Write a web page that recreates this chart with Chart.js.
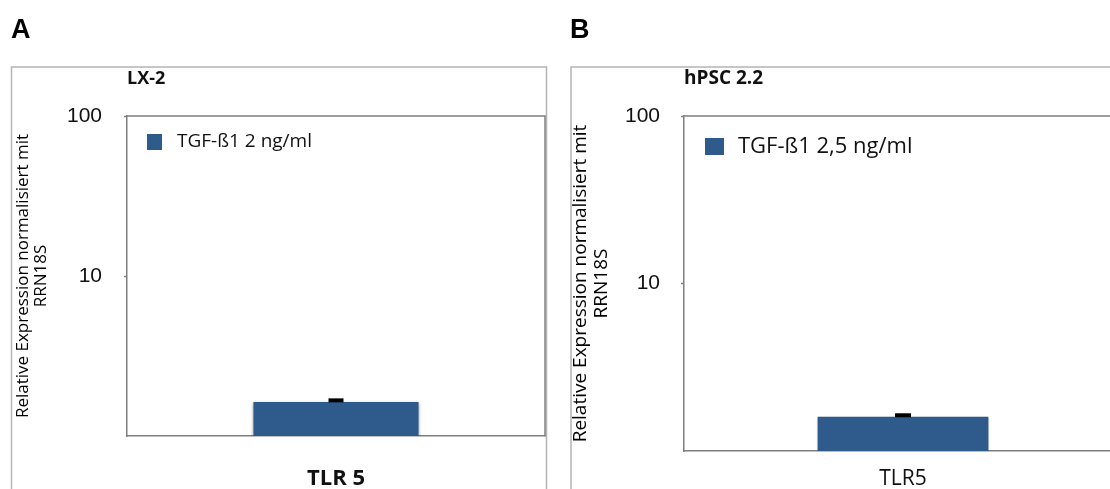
<!DOCTYPE html>
<html>
<head>
<title>TLR5 Expression</title>
<script src="https://cdn.jsdelivr.net/npm/chart.js"></script>
<style>
    html, body {
        margin: 0;
        padding: 0;
        background: #ffffff;
        width: 1110px;
        height: 489px;
        overflow: hidden;
    }
    .panel {
        position: absolute;
        top: 0;
        height: 489px;
    }
    #panelA { left: 0; width: 555px; }
    #panelB { left: 560px; width: 575px; }
</style>
</head>
<body>
<div class="panel" id="panelA"><canvas id="chartA"></canvas></div>
<div class="panel" id="panelB"><canvas id="chartB"></canvas></div>
<script>
// data
const categoriesA = ['TLR 5'];
const categoriesB = ['TLR5'];
const seriesLabelA = 'TGF-ß1 2 ng/ml';
const seriesLabelB = 'TGF-ß1 2,5 ng/ml';
const valuesA = [1.63];
const errorsA = [0.04];
const valuesB = [1.60];
const errorsB = [0.034];
const yTicks = [10, 100];
const yTitle = ['Relative Expression normalisiert mit', 'RRN18S'];

const BAR_BLUE = '#2e5a8c';
const AXIS_GREY = '#7f7f7f';

// letter, outer box, frame, legend and error caps
const panelDecor = {
    id: 'panelDecor',
    beforeDraw(chart, args, o) {
        const ctx = chart.ctx;
        ctx.save();
        ctx.fillStyle = '#000';
        ctx.font = 'bold 27px "Liberation Sans", Arial, sans-serif';
        ctx.textBaseline = 'alphabetic';
        ctx.fillText(o.letter, o.letterX, 38);

        ctx.strokeStyle = '#b4b4b4';
        ctx.lineWidth = 1.5;
        ctx.beginPath();
        ctx.moveTo(o.boxLeft, 700);
        ctx.lineTo(o.boxLeft, 67);
        ctx.lineTo(o.boxRight, 67);
        ctx.lineTo(o.boxRight, 700);
        ctx.stroke();

        ctx.fillStyle = '#111';
        ctx.font = 'bold ' + o.titleSize + 'px "Open Sans", sans-serif';
        ctx.textBaseline = 'middle';
        ctx.fillText(o.title, chart.chartArea.left, 79);
        ctx.restore();
    },
    beforeDatasetsDraw(chart) {
        const ctx = chart.ctx;
        ctx.save();
        ctx.shadowColor = 'rgba(0,0,0,0.35)';
        ctx.shadowBlur = 3;
        ctx.shadowOffsetY = 1;
    },
    afterDatasetsDraw(chart, args, o) {
        const ctx = chart.ctx;
        ctx.restore();
        const area = chart.chartArea;
        const y = chart.scales.y;
        ctx.save();

        // plot frame (top and right)
        ctx.strokeStyle = AXIS_GREY;
        ctx.lineWidth = 1.5;
        ctx.beginPath();
        ctx.moveTo(area.left, area.top);
        ctx.lineTo(area.right, area.top);
        ctx.lineTo(area.right, area.bottom);
        ctx.stroke();

        // error bars
        const ds = chart.data.datasets[0];
        const meta = chart.getDatasetMeta(0);
        ctx.strokeStyle = '#000';
        meta.data.forEach((bar, i) => {
            const top = y.getPixelForValue(ds.data[i] + o.errors[i]);
            ctx.lineWidth = 1.5;
            ctx.beginPath();
            ctx.moveTo(bar.x, bar.y);
            ctx.lineTo(bar.x, top);
            ctx.stroke();
            ctx.lineWidth = 4;
            ctx.beginPath();
            ctx.moveTo(bar.x - o.capHalf, top);
            ctx.lineTo(bar.x + o.capHalf, top);
            ctx.stroke();
        });

        // legend
        const lg = o.legend;
        ctx.fillStyle = ds.backgroundColor;
        ctx.fillRect(lg.x, lg.y, lg.w, lg.h);
        ctx.fillStyle = '#111';
        ctx.font = lg.size + 'px "Open Sans", sans-serif';
        ctx.textBaseline = 'middle';
        ctx.fillText(ds.label, lg.textX, lg.y + lg.h / 2);
        ctx.restore();
    }
};

function makeChart(id, cfg) {
    return new Chart(document.getElementById(id), {
        type: 'bar',
        data: {
            labels: cfg.labels,
            datasets: [{
                label: cfg.seriesLabel,
                data: cfg.values,
                backgroundColor: BAR_BLUE,
                borderWidth: 0,
                barPercentage: cfg.barPct,
                categoryPercentage: 1
            }]
        },
        options: {
            responsive: true,
            maintainAspectRatio: false,
            animation: false,
            layout: { padding: { left: 0, top: 116, right: cfg.padRight, bottom: 0 } },
            plugins: {
                legend: { display: false },
                tooltip: { enabled: false },
                panelDecor: cfg.decor
            },
            scales: {
                x: {
                    grid: { display: false, drawTicks: false },
                    border: { color: AXIS_GREY, width: 1.5 },
                    ticks: { color: '#111', padding: cfg.xPad, font: cfg.xFont },
                    afterFit(s) { s.height = cfg.xHeight; }
                },
                y: {
                    type: 'logarithmic',
                    min: 1,
                    max: 100,
                    afterBuildTicks(s) { s.ticks = yTicks.map(v => ({ value: v })); },
                    ticks: {
                        color: '#111',
                        padding: cfg.yPad,
                        font: { family: '"Liberation Sans", Arial, sans-serif', size: 21 },
                        callback: v => String(v)
                    },
                    grid: { drawOnChartArea: false, drawTicks: true, tickLength: 3, tickColor: AXIS_GREY, tickWidth: 1.5 },
                    border: { color: AXIS_GREY, width: 1.5 },
                    title: {
                        display: true,
                        text: yTitle,
                        color: '#000',
                        padding: { top: cfg.titlePad, bottom: 0 },
                        font: { family: '"Open Sans", sans-serif', size: cfg.titleSize, lineHeight: cfg.titleLh }
                    },
                    afterFit(s) { s.width = cfg.yWidth; }
                }
            }
        },
        plugins: [panelDecor]
    });
}

makeChart('chartA', {
    labels: categoriesA,
    seriesLabel: seriesLabelA,
    values: valuesA,
    barPct: 0.395,
    padRight: 10,
    xHeight: 53,
    xPad: 30,
    xFont: { family: '"Open Sans", sans-serif', size: 22, weight: 'bold' },
    yPad: 22,
    yWidth: 127,
    titlePad: 14,
    titleSize: 17,
    titleLh: 1.05,
    decor: {
        letter: 'A', letterX: 11, boxLeft: 11.5, boxRight: 546.5,
        title: 'LX-2', titleSize: 18, errors: errorsA, capHalf: 7.5,
        legend: { x: 147, y: 134, w: 15, h: 16, textX: 177, size: 19 }
    }
});

makeChart('chartB', {
    labels: categoriesB,
    seriesLabel: seriesLabelB,
    values: valuesB,
    barPct: 0.39,
    padRight: 13,
    xHeight: 38,
    xPad: 15,
    xFont: { family: '"Open Sans", sans-serif', size: 21 },
    yPad: 21,
    yWidth: 124,
    titlePad: 10,
    titleSize: 19,
    titleLh: 1.1,
    decor: {
        letter: 'B', letterX: 10, boxLeft: 11, boxRight: 900,
        title: 'hPSC 2.2', titleSize: 19, errors: errorsB, capHalf: 8,
        legend: { x: 145, y: 138, w: 19, h: 17, textX: 178, size: 22 }
    }
});
</script>
</body>
</html>
